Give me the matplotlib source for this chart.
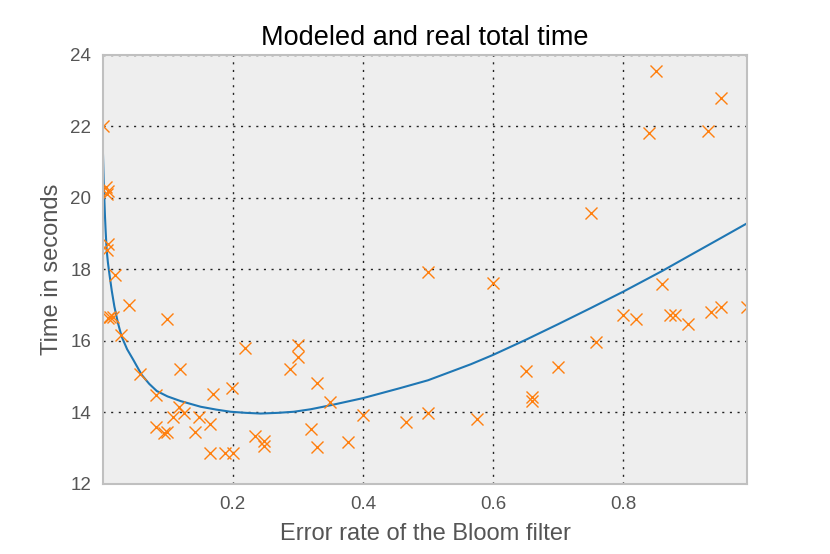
# Modeled vs measured total time as a function of the Bloom filter error rate.

import matplotlib
matplotlib.use('Agg')
import matplotlib.pyplot as plt

plt.rcParams['font.family'] = ['Liberation Sans', 'DejaVu Sans']

# Measured runs (error rate, seconds)
real_rate = [0.001, 0.006, 0.008, 0.007, 0.008, 0.007, 0.0195, 0.0405, 0.008, 0.012,
             0.016, 0.029, 0.1, 0.2195, 0.058, 0.1195, 0.1995, 0.17, 0.083, 0.117,
             0.109, 0.126, 0.149, 0.165, 0.083, 0.095, 0.1, 0.143, 0.165, 0.189,
             0.2, 0.234, 0.249, 0.249, 0.5, 0.3, 0.3, 0.288, 0.33, 0.35,
             0.4, 0.466, 0.5, 0.32, 0.33, 0.377, 0.75, 0.6, 0.7585, 0.65,
             0.7, 0.66, 0.66, 0.575, 0.85, 0.95, 0.84, 0.93, 0.86, 0.8,
             0.82, 0.871, 0.88, 0.9, 0.934, 0.95, 0.99]
real_time = [22.0, 20.3, 20.2, 20.1, 18.7, 18.55, 17.85, 17.0, 16.63, 16.66,
             16.68, 16.17, 16.62, 15.81, 15.08, 15.21, 14.69, 14.51, 14.49, 14.16,
             13.88, 13.99, 13.88, 13.68, 13.6, 13.42, 13.44, 13.46, 12.88, 12.86,
             12.86, 13.33, 13.2, 13.06, 17.94, 15.89, 15.56, 15.21, 14.82, 14.28,
             13.93, 13.74, 13.98, 13.54, 13.04, 13.17, 19.57, 17.61, 15.98, 15.17,
             15.28, 14.44, 14.33, 13.83, 23.56, 22.79, 21.83, 21.86, 17.59, 16.73,
             16.62, 16.73, 16.73, 16.48, 16.8, 16.96, 16.96]

# Model curve
model_rate = [0.001, 0.002, 0.003, 0.004, 0.005, 0.0066, 0.0085, 0.011, 0.0145, 0.0185,
              0.024, 0.0297, 0.038, 0.0476, 0.0605, 0.072, 0.0836, 0.1, 0.12, 0.151,
              0.175, 0.197, 0.22, 0.243, 0.27, 0.294, 0.32, 0.35, 0.4, 0.457,
              0.5, 0.566, 0.6, 0.65, 0.7, 0.75, 0.8, 0.86, 0.9, 0.95, 0.99]
model_time = [21.2, 20.5, 20.0, 19.5, 19.1, 18.55, 18.2, 17.85, 17.4, 16.96,
              16.5, 16.12, 15.77, 15.47, 15.05, 14.8, 14.6, 14.45, 14.32, 14.16,
              14.08, 14.02, 13.99, 13.97, 13.99, 14.02, 14.09, 14.2, 14.4, 14.68,
              14.9, 15.35, 15.61, 16.03, 16.47, 16.92, 17.38, 17.96, 18.37, 18.88, 19.29]

x_ticks = [0.2, 0.4, 0.6, 0.8]
y_ticks = [12, 14, 16, 18, 20, 22, 24]

fig = plt.figure(figsize=(8.3, 5.54), dpi=100)
ax = fig.add_axes([0.1241, 0.1264, 0.7759, 0.7744])
ax.set_facecolor('#eeeeee')

ax.plot(model_rate, model_time, color='#1f77b4', linewidth=1.5)
ax.plot(real_rate, real_time, 'x', color='#ff7f0e', markersize=9, markeredgewidth=1.0)

ax.set_xlim(0.001, 0.99)
ax.set_ylim(12, 24)
ax.set_xticks(x_ticks)
ax.set_yticks(y_ticks)
ax.tick_params(length=0, pad=8.5, labelsize=13.5, labelcolor='#555555')

# dotted black grid, behind the data
ax.grid(True, color='#222222', linestyle=(0, (1.5, 4)), linewidth=1.0)
ax.set_axisbelow(True)
for spine in ax.spines.values():
    spine.set_color('#c0c0c0')
    spine.set_linewidth(1.5)

ax.set_title('Modeled and real total time', fontsize=19.5, color='black', pad=7)
ax.set_xlabel('Error rate of the Bloom filter', fontsize=17, color='#555555', labelpad=7)
ax.set_ylabel('Time in seconds', fontsize=17, color='#555555', labelpad=5.5)

fig.savefig('out.png', dpi=100)
